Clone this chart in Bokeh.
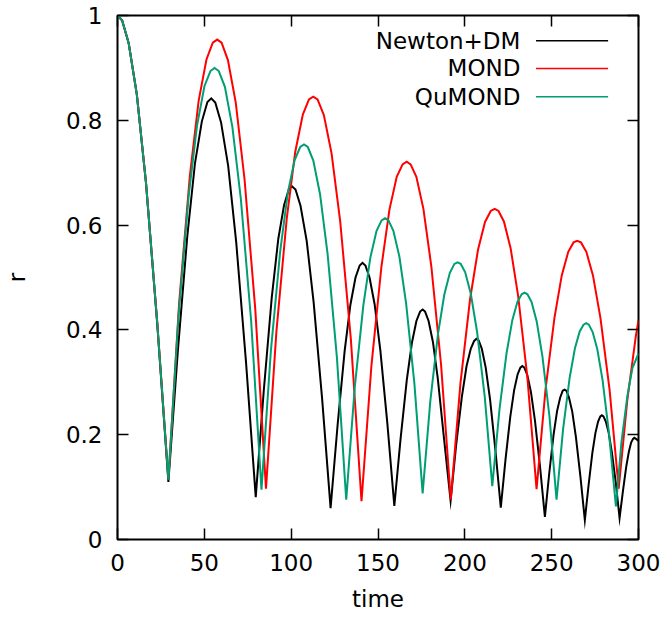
from bokeh.plotting import figure
from bokeh.models import Range1d, FixedTicker, LinearAxis, Label
from bokeh.embed import file_html
from bokeh.resources import INLINE

# ---------------- data ----------------
time_newton = [0, 2.64, 6.45, 11.13, 16.41, 22.85, 29.3,
               34.73, 40.17, 44.61, 48.57, 51.78, 54.0,
               56.30, 59.63, 63.73, 68.34, 73.97, 79.6,
               84.20, 88.80, 92.56, 95.90, 98.62, 100.5,
               102.50, 105.38, 108.94, 112.93, 117.82, 122.7,
               126.75, 130.80, 134.11, 137.05, 139.44, 141.1,
               142.75, 145.13, 148.05, 151.35, 155.37, 159.4,
               162.99, 166.57, 169.51, 172.11, 174.23, 175.7,
               177.10, 179.13, 181.63, 184.44, 187.87, 191.8,
               194.99, 198.28, 201.00, 203.41, 205.36, 206.7,
               207.96, 209.78, 212.02, 214.54, 217.62, 220.7,
               223.43, 226.16, 228.39, 230.37, 231.98, 233.1,
               234.27, 235.96, 238.04, 240.38, 243.24, 246.1,
               248.59, 251.07, 253.11, 254.91, 256.38, 257.4,
               258.45, 259.97, 261.85, 263.95, 266.53, 269.1,
               271.26, 273.41, 275.18, 276.74, 278.02, 278.9,
               279.83, 281.17, 282.81, 284.67, 286.93, 289.1,
               291.05, 292.90, 294.41, 295.75, 296.84, 297.6,
               299.0, 300.0]
r_newton = [1.0, 0.991, 0.947, 0.849, 0.680, 0.413, 0.110,
            0.359, 0.578, 0.718, 0.798, 0.835, 0.842,
            0.834, 0.796, 0.713, 0.568, 0.340, 0.081,
            0.283, 0.461, 0.573, 0.638, 0.668, 0.674,
            0.668, 0.637, 0.570, 0.453, 0.269, 0.060,
            0.219, 0.360, 0.448, 0.500, 0.523, 0.528,
            0.523, 0.500, 0.449, 0.361, 0.222, 0.064,
            0.192, 0.304, 0.375, 0.417, 0.435, 0.439,
            0.435, 0.417, 0.377, 0.307, 0.197, 0.074,
            0.180, 0.272, 0.331, 0.364, 0.379, 0.383,
            0.380, 0.364, 0.328, 0.267, 0.170, 0.061,
            0.153, 0.234, 0.285, 0.315, 0.328, 0.331,
            0.328, 0.314, 0.282, 0.227, 0.141, 0.043,
            0.126, 0.199, 0.245, 0.271, 0.284, 0.286,
            0.284, 0.271, 0.244, 0.196, 0.121, 0.037,
            0.104, 0.165, 0.203, 0.225, 0.235, 0.237,
            0.235, 0.225, 0.204, 0.166, 0.108, 0.041,
            0.093, 0.138, 0.167, 0.185, 0.192, 0.194,
            0.191, 0.188]

time_mond = [0, 2.64, 6.45, 11.13, 16.41, 22.85, 29.3,
             35.48, 41.66, 46.72, 51.22, 54.87, 57.4,
             59.93, 63.58, 68.08, 73.14, 79.32, 85.5,
             91.48, 97.47, 102.36, 106.72, 110.25, 112.7,
             115.20, 118.82, 123.26, 128.27, 134.38, 140.5,
             146.22, 151.94, 156.62, 160.78, 164.16, 166.5,
             168.79, 172.09, 176.15, 180.72, 186.31, 191.9,
             197.47, 203.03, 207.59, 211.63, 214.92, 217.2,
             219.37, 222.50, 226.36, 230.70, 236.00, 241.3,
             246.45, 251.60, 255.81, 259.55, 262.59, 264.7,
             266.85, 269.96, 273.78, 278.08, 283.34, 288.6,
             293.55, 298.5, 300.0]
r_mond = [1.0, 0.991, 0.947, 0.850, 0.681, 0.416, 0.115,
          0.451, 0.694, 0.837, 0.916, 0.948, 0.954,
          0.948, 0.915, 0.834, 0.688, 0.440, 0.097,
          0.396, 0.613, 0.740, 0.811, 0.840, 0.845,
          0.840, 0.810, 0.737, 0.606, 0.382, 0.073,
          0.332, 0.520, 0.630, 0.692, 0.716, 0.721,
          0.716, 0.692, 0.631, 0.521, 0.334, 0.076,
          0.298, 0.459, 0.553, 0.606, 0.627, 0.631,
          0.627, 0.607, 0.556, 0.465, 0.310, 0.096,
          0.286, 0.423, 0.504, 0.549, 0.567, 0.570,
          0.567, 0.549, 0.504, 0.423, 0.286, 0.097,
          0.266, 0.389, 0.418]

time_qumond = [0, 2.64, 6.45, 11.13, 16.41, 22.85, 29.3,
               35.15, 41.00, 45.79, 50.05, 53.51, 55.9,
               58.33, 61.84, 66.16, 71.02, 76.96, 82.9,
               88.29, 93.68, 98.09, 102.01, 105.20, 107.4,
               109.59, 112.75, 116.63, 121.01, 126.35, 131.7,
               136.63, 141.56, 145.59, 149.17, 152.08, 154.1,
               156.04, 158.85, 162.31, 166.20, 170.95, 175.7,
               180.12, 184.54, 188.16, 191.38, 193.99, 195.8,
               197.61, 200.22, 203.44, 207.06, 211.48, 215.8,
               219.97, 224.04, 227.37, 230.33, 232.74, 234.4,
               236.06, 238.45, 241.39, 244.70, 248.75, 252.8,
               256.56, 260.32, 263.40, 266.14, 268.36, 269.9,
               271.41, 273.60, 276.28, 279.31, 283.00, 287.0,
               290.18, 293.65, 296.50, 300.0]
r_qumond = [1.0, 0.991, 0.947, 0.849, 0.681, 0.415, 0.114,
            0.428, 0.656, 0.790, 0.865, 0.894, 0.900,
            0.894, 0.864, 0.787, 0.650, 0.417, 0.095,
            0.359, 0.550, 0.662, 0.724, 0.749, 0.754,
            0.749, 0.723, 0.659, 0.544, 0.347, 0.076,
            0.291, 0.447, 0.538, 0.589, 0.609, 0.613,
            0.609, 0.589, 0.540, 0.450, 0.298, 0.088,
            0.264, 0.392, 0.467, 0.509, 0.526, 0.529,
            0.526, 0.510, 0.469, 0.396, 0.272, 0.102,
            0.249, 0.356, 0.419, 0.454, 0.468, 0.471,
            0.468, 0.453, 0.416, 0.349, 0.234, 0.076,
            0.210, 0.308, 0.365, 0.397, 0.410, 0.413,
            0.410, 0.396, 0.363, 0.304, 0.203, 0.063,
            0.186, 0.275, 0.327, 0.355]

series_names = ["Newton+DM", "MOND", "QuMOND"]
x_ticks = [0, 50, 100, 150, 200, 250, 300]
y_ticks = [0, 0.2, 0.4, 0.6, 0.8, 1.0]
y_tick_labels = ["0", "0.2", "0.4", "0.6", "0.8", "1"]

# ---------------- style ----------------
FONT = "DejaVu Sans"
FS = "23px"
COLORS = ["#000000", "#ff0000", "#009e73"]

p = figure(width=666, height=619, output_backend="svg", toolbar_location=None,
           x_range=Range1d(0, 300), y_range=Range1d(0, 1),
           min_border_left=115, min_border_right=28,
           min_border_top=15, min_border_bottom=80,
           x_axis_label="time", y_axis_label="r")
p.grid.visible = False
p.background_fill_color = "white"
p.border_fill_color = "white"
p.outline_line_color = "black"
p.outline_line_width = 2
p.outline_line_alpha = 1.0


def style_axis(ax, ticks, show_labels):
    ax.ticker = FixedTicker(ticks=ticks)
    ax.axis_line_color = None
    ax.major_tick_in = 11
    ax.major_tick_out = 0
    ax.major_tick_line_color = "black"
    ax.major_tick_line_width = 1.5
    ax.minor_tick_line_color = None
    ax.major_label_text_font = FONT
    ax.axis_label_text_font = FONT
    ax.axis_label_text_font_size = FS
    ax.axis_label_text_font_style = "normal"
    ax.axis_label_text_color = "black"
    if show_labels:
        ax.major_label_text_font_size = FS
        ax.major_label_text_color = "black"
    else:
        # mirror ticks only (gnuplot style): labels not drawn at all
        ax.major_label_text_font_size = "1px"
        ax.major_label_text_color = None
        ax.major_label_standoff = 0


xa = p.xaxis[0]
ya = p.yaxis[0]
style_axis(xa, x_ticks, True)
style_axis(ya, y_ticks, True)
xa.major_label_standoff = 14
xa.axis_label_standoff = 12
ya.major_label_standoff = 15
ya.axis_label_standoff = 33
ya.major_label_overrides = {t: s for t, s in zip(y_ticks, y_tick_labels)}

top_ax = LinearAxis()
style_axis(top_ax, x_ticks, False)
p.add_layout(top_ax, "above")
right_ax = LinearAxis()
style_axis(right_ax, y_ticks, False)
p.add_layout(right_ax, "right")

# ---------------- curves ----------------
all_t = [time_newton, time_mond, time_qumond]
all_r = [r_newton, r_mond, r_qumond]
for t, r, c in zip(all_t, all_r, COLORS):
    p.line(x=t, y=r, line_color=c, line_width=2, line_join="miter")

# ---------------- legend (gnuplot style: text, then sample) ----------------
legend_text_x = 232.0
legend_line_x0 = 241.0
legend_line_x1 = 282.5
legend_rows_y = [0.952, 0.899, 0.845]

for name, c, ly in zip(series_names, COLORS, legend_rows_y):
    p.add_layout(Label(x=legend_text_x, y=ly, text=name, text_align="right",
                       text_baseline="middle", text_font=FONT,
                       text_font_size=FS, text_color="black"))
p.segment(x0=[legend_line_x0] * 3, x1=[legend_line_x1] * 3, y0=legend_rows_y,
          y1=legend_rows_y, line_color=COLORS, line_width=1.5)

open("out.html", "w").write(file_html(p, INLINE))
